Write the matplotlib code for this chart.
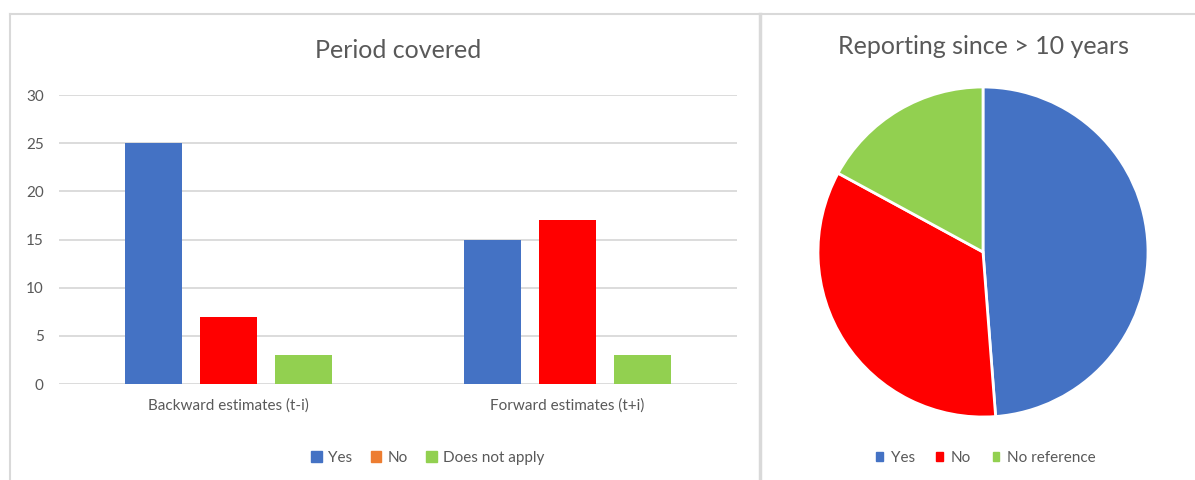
import matplotlib.pyplot as plt
import numpy as np
from matplotlib.lines import Line2D
from matplotlib.patches import Patch

plt.rcParams["font.family"] = ["Lato", "DejaVu Sans"]

categories = ["Backward estimates (t-i)", "Forward estimates (t+i)"]
yes_vals = [25, 15]
no_vals = [7, 17]
na_vals = [3, 3]

pie_labels = ["Yes", "No", "No reference"]
pie_vals = [20, 14, 7]

BLUE = "#4472C4"
RED = "#FF0000"
ORANGE = "#ED7D31"
GREEN = "#92D050"
GRID = "#D9D9D9"
TEXT = "#595959"

fig = plt.figure(figsize=(11.95, 4.8), dpi=100)

# frame lines around the two panels
fig.add_artist(Line2D([10 / 1195, 1], [1 - 13.5 / 480] * 2, color=GRID, lw=1.5))
fig.add_artist(Line2D([10 / 1195] * 2, [0, 1 - 13.5 / 480], color=GRID, lw=1.5))
fig.add_artist(Line2D([760.5 / 1195] * 2, [0, 1 - 13.5 / 480], color=GRID, lw=2.5))

# bar chart
ax = fig.add_axes([59 / 1195, 96 / 480, 678 / 1195, 289 / 480])
x = np.arange(len(categories))
w = 0.171
step = 0.2212
ax.bar(x - step, yes_vals, w, color=BLUE, zorder=3)
ax.bar(x, no_vals, w, color=RED, zorder=3)
ax.bar(x + step, na_vals, w, color=GREEN, zorder=3)
ax.set_xlim(-0.5, 1.5)
ax.set_ylim(0, 30)
ax.set_yticks(range(0, 31, 5))
ax.set_xticks(x)
ax.set_xticklabels(categories)
ax.grid(axis="y", color=GRID, lw=1.3, zorder=0)
for s in ax.spines.values():
    s.set_visible(False)
ax.tick_params(length=0, labelsize=11, colors=TEXT)
ax.tick_params(axis="y", pad=11)
ax.tick_params(axis="x", pad=10)
ax.set_title("Period covered", fontsize=18, color=TEXT, pad=27)
# legend swatch for "No" is orange in the original
handles = [Patch(color=BLUE), Patch(color=ORANGE), Patch(color=GREEN)]
ax.legend(handles, ["Yes", "No", "Does not apply"], loc="center",
          bbox_to_anchor=(0.544, -0.255), ncol=3, frameon=False,
          fontsize=11, handlelength=0.7, handleheight=0.7, handletextpad=0.4,
          columnspacing=1.2, labelcolor=TEXT)

# pie chart
pax = fig.add_axes([818 / 1195, 63 / 480, 330 / 1195, 330 / 480])
pax.pie(pie_vals, colors=[BLUE, RED, GREEN], startangle=90, counterclock=False,
        wedgeprops=dict(edgecolor="white", linewidth=2))
pax.set_xlim(-1, 1)
pax.set_ylim(-1, 1)
pax.set_aspect("equal")
fig.text(983 / 1195, 1 - 46 / 480, "Reporting since > 10 years", ha="center",
         va="center", fontsize=18, color=TEXT)
handles = [Patch(color=c) for c in [BLUE, RED, GREEN]]
fig.legend(handles, pie_labels, loc="center", bbox_to_anchor=(986 / 1195, 1 - 458 / 480),
           ncol=3, frameon=False, fontsize=11, handlelength=0.45, handleheight=0.45,
           handletextpad=0.5, columnspacing=1.4, labelcolor=TEXT)

fig.savefig("out.png", dpi=100)
